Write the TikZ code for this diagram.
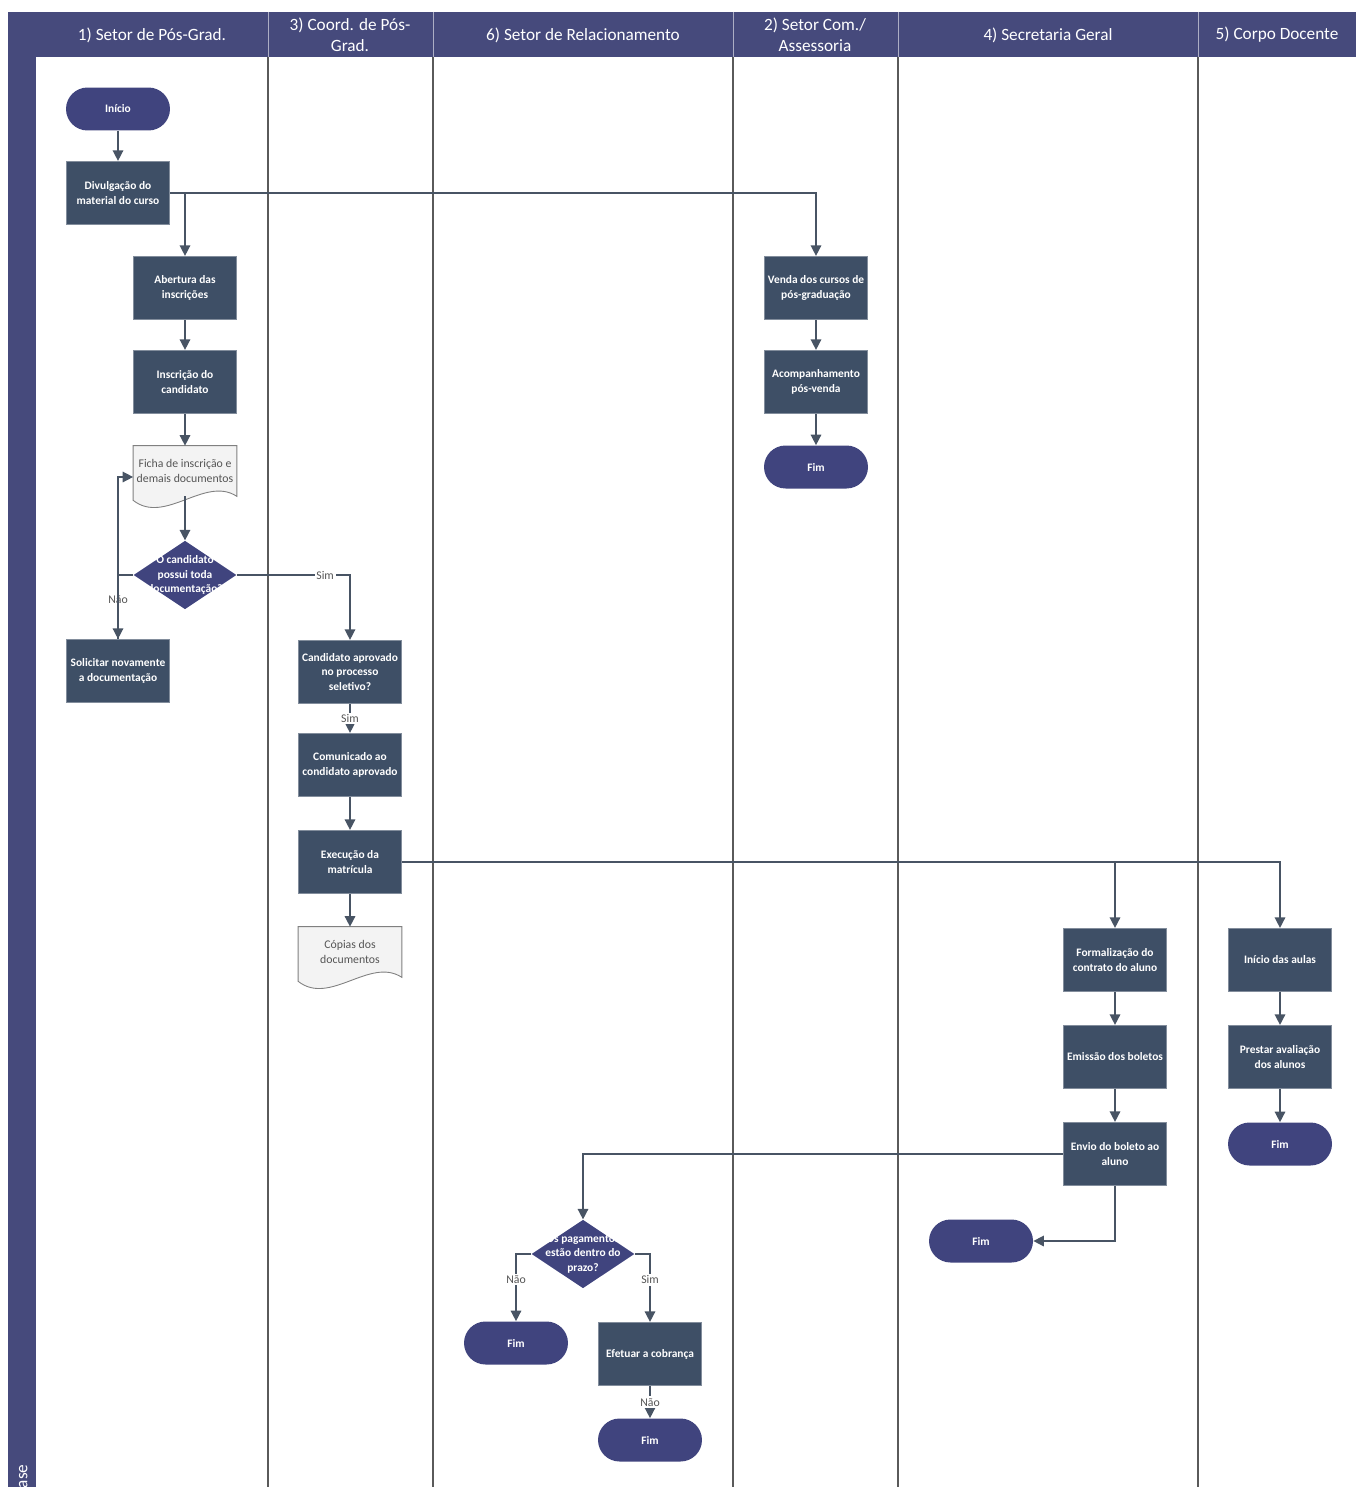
\documentclass[tikz,border=0pt]{standalone}
\usepackage{fontspec}
\setmainfont{Carlito}
\usepackage{tikz}
\usetikzlibrary{arrows.meta,positioning,shapes.geometric,calc,backgrounds}
\definecolor{lanehead}{RGB}{70,74,124}
\definecolor{procfill}{RGB}{62,79,102}
\definecolor{termfill}{RGB}{64,68,126}
\definecolor{flowline}{RGB}{72,84,100}
\definecolor{laneline}{RGB}{90,90,90}
\definecolor{docfill}{RGB}{243,243,243}
\definecolor{doctext}{RGB}{85,85,85}
\newcommand{\boxfont}{\fontsize{6.5}{8.2}\selectfont\bfseries}
\newcommand{\plainfont}{\fontsize{6.7}{8.2}\selectfont}
\newcommand{\hdrfont}{\fontsize{9.8}{12}\selectfont}

\begin{document}
\begin{tikzpicture}[x=0.02cm, y=-0.02cm,
  proc/.style={rectangle, fill=procfill, draw=procfill!65!white, line width=0.4pt, text=white, font=\boxfont, align=center, minimum width=2.07cm, minimum height=1.27cm, inner sep=1pt},
  term/.style={rectangle, rounded corners=0.43cm, fill=termfill, text=white, font=\boxfont, minimum width=2.08cm, minimum height=0.86cm},
  decision/.style={diamond, fill=termfill, minimum width=2.06cm, minimum height=1.37cm, inner sep=0pt, label={[text=white, font=\boxfont, align=center]center:#1}},
  doc/.style={rectangle, text=doctext, font=\plainfont, align=center, minimum width=2.06cm, minimum height=1cm, inner sep=1pt},
  flow/.style={draw=flowline, line width=0.85pt, -{Triangle[length=6pt, width=6pt]}},
  answer/.style={fill=white, text=doctext, font=\plainfont, inner sep=1pt},
  lane/.style={draw=laneline, line width=0.85pt},
  title/.style={text=white, font=\hdrfont, align=center},
]
\useasboundingbox (0,0) rectangle (1356,1487);

% Lanes
\fill[lanehead] (8,12) rectangle (36,1487);
\fill[lanehead] (36,12) rectangle (1356,57);
\foreach \x in {268,433,733,898,1198} {
  \draw[white!55!lanehead, line width=0.5pt] (\x,12) -- (\x,57);
  \draw[lane] (\x,57) -- (\x,1487);
}
\node[text=white, font=\hdrfont, rotate=90, anchor=west, inner sep=0pt] (fase) at (22,1496) {Fase};
\node[title] (h1) at (152,35) {1) Setor de Pós-Grad.};
\node[title] (h3) at (350,35) {3) Coord. de Pós-\\Grad.};
\node[title] (h6) at (583,35) {6) Setor de Relacionamento};
\node[title] (h2) at (815,35) {2) Setor Com./\\Assessoria};
\node[title] (h4) at (1048,35) {4) Secretaria Geral};
\node[title] (h5) at (1277,35) {5) Corpo Docente};

% Setor de Pos-Grad.
\node[term] (inicio) at (118,109) {Início};
\node[proc] (div) at (118,193) {Divulgação do\\material do curso};
\node[proc] (abe) at (185,288) {Abertura das\\inscrições};
\node[proc] (insc) at (185,382) {Inscrição do\\candidato};
\node[doc] (ficha) at (185,471) {Ficha de inscrição e\\demais documentos};
\node[decision={O candidato\\possui toda\\documentação?}] (d1) at (185,575) {};
\node[proc] (sol) at (118,671) {Solicitar novamente\\a documentação};

% Coord. de Pos-Grad.
\node[proc] (apr) at (350,672) {Candidato aprovado\\no processo\\seletivo?};
\node[proc] (com) at (350,765) {Comunicado ao\\condidato aprovado};
\node[proc] (exe) at (350,862) {Execução da\\matrícula};
\node[doc] (copias) at (350,952) {Cópias dos\\documentos};

% Setor Com./Assessoria
\node[proc] (venda) at (816,288) {Venda dos cursos de\\pós-graduação};
\node[proc] (acomp) at (816,382) {Acompanhamento\\pós-venda};
\node[term] (fimVenda) at (816,467) {Fim};

% Secretaria Geral
\node[proc] (form) at (1115,960) {Formalização do\\contrato do aluno};
\node[proc] (emis) at (1115,1057) {Emissão dos boletos};
\node[proc] (envio) at (1115,1154) {Envio do boleto ao\\aluno};
\node[term] (fimSec) at (981,1241) {Fim};

% Corpo Docente
\node[proc] (aulas) at (1280,960) {Início das aulas};
\node[proc] (aval) at (1280,1057) {Prestar avaliação\\dos alunos};
\node[term] (fimDoc) at (1280,1144) {Fim};

% Setor de Relacionamento
\node[decision={Os pagamentos\\estão dentro do\\prazo?}] (d2) at (583,1254) {};
\node[term] (fimNao) at (516,1343) {Fim};
\node[proc] (cob) at (650,1354) {Efetuar a cobrança};
\node[term] (fimCob) at (650,1440) {Fim};

% Document shapes
\begin{pgfonlayer}{background}
\foreach \d in {ficha,copias} {
  \draw[fill=docfill, draw=gray, line width=0.5pt] (\d.north west) -- (\d.north east) -- (\d.south east)
    .. controls ($(\d.south)+(20,-21)$) and ($(\d.south)+(-20,29)$) .. ($(\d.south west)+(0,4)$) -- cycle;
}
\end{pgfonlayer}

% Connectors
\draw[flow] (inicio) -- (div);
\draw[flow] (div.east) -| (abe.north);
\draw[flow] (div.east) -| (venda.north);
\draw[flow] (abe) -- (insc);
\draw[flow] (insc) -- (ficha);
\draw[flow] (ficha.south) -- (d1.north);
\draw[flow] (d1.west) -| node[answer, pos=0.69] {Não} (sol.north);
\draw[flow] (sol.north) |- ($(ficha.west)+(0,6)$);
\draw[flow] (d1.east) -| node[answer, pos=0.39] {Sim} (apr.north);
\draw[flow] (apr) -- node[answer] {Sim} (com);
\draw[flow] (com) -- (exe);
\draw[flow] (exe) -- (copias);
\draw[flow] (exe.east) -| (form.north);
\draw[flow] (exe.east) -| (aulas.north);
\draw[flow] (venda) -- (acomp);
\draw[flow] (acomp) -- (fimVenda);
\draw[flow] (form) -- (emis);
\draw[flow] (emis) -- (envio);
\draw[flow] (envio.west) -| (d2.north);
\draw[flow] (envio.south) |- (fimSec.east);
\draw[flow] (aulas) -- (aval);
\draw[flow] (aval) -- (fimDoc);
\draw[flow] (d2.west) -| node[answer, pos=0.69] {Não} (fimNao.north);
\draw[flow] (d2.east) -| node[answer, pos=0.69] {Sim} (cob.north);
\draw[flow] (cob) -- node[answer] {Não} (fimCob);
\end{tikzpicture}
\end{document}
